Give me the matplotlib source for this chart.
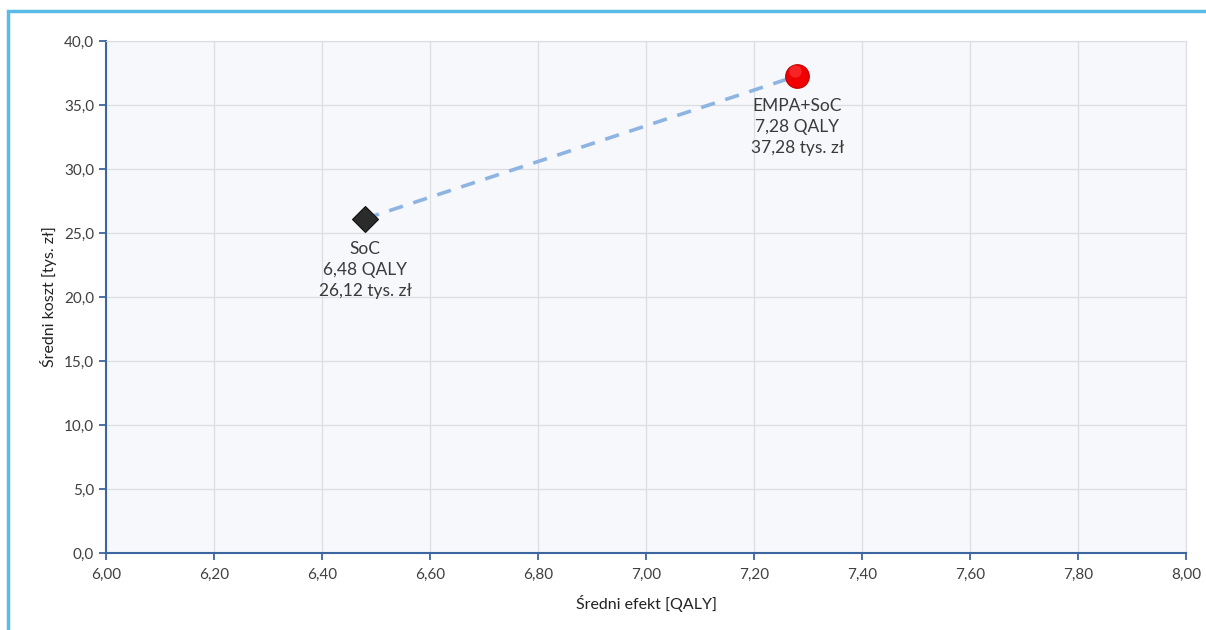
import matplotlib
matplotlib.use('Agg')
import numpy as np
from matplotlib import pyplot as plt
from matplotlib.patches import Rectangle

# data
names = ['SoC', 'EMPA+SoC']
qaly = [6.48, 7.28]
cost = [26.12, 37.28]
xticks = np.arange(6.0, 8.01, 0.2)
yticks = np.arange(0.0, 40.1, 5.0)

plt.rcParams['font.family'] = ['Lato', 'DejaVu Sans']

fig = plt.figure(figsize=(12.06, 6.30), dpi=100)
ax = fig.add_axes([106/1206, 1-553/630, 1080/1206, 512/630])
ax.set_facecolor('#f7f8fb')

# outer light blue frame
fig.patches.append(Rectangle((8/1206, -0.1), 1.2, 1-11/630+0.1, transform=fig.transFigure,
                             fill=False, edgecolor='#5bbbe8', lw=2.5, zorder=0))

ax.plot(qaly, cost, ls=(0, (4, 3)), color='#8db4e2', lw=2.6, zorder=2)
ax.plot(qaly[0], cost[0], marker='D', ms=13, color='#2b2b2b', mec='#111111', mew=0.8, ls='none', zorder=3)
ax.plot(qaly[1], cost[1], marker='o', ms=17, color='#f00000', mec='#c00000', mew=0.8, ls='none', zorder=3)
ax.plot(qaly[1]-0.004, cost[1]+0.35, marker='o', ms=9, color='#ff5050', mec='none', alpha=0.45, ls='none', zorder=4)

def fmt(v, d):
    return f'{v:.{d}f}'.replace('.', ',')

for n, q, c in zip(names, qaly, cost):
    ax.annotate(f'{n}\n{fmt(q, 2)} QALY\n{fmt(c, 2)} tys. zł', (q, c), xytext=(0, -16),
                textcoords='offset points', ha='center', va='top', fontsize=12.5,
                color='#3a3a3a', linespacing=1.4)

ax.set_xlim(6.0, 8.0)
ax.set_ylim(0, 40)
ax.set_xticks(xticks)
ax.set_yticks(yticks)
ax.set_xticklabels([fmt(t, 2) for t in xticks])
ax.set_yticklabels([fmt(t, 1) for t in yticks])
ax.grid(True, color='#dcdde0', lw=0.9)
ax.set_axisbelow(True)

for s in ['top', 'right']:
    ax.spines[s].set_color('#dcdde0')
for s in ['left', 'bottom']:
    ax.spines[s].set_color('#3b66a0')
    ax.spines[s].set_linewidth(1.5)
ax.tick_params(axis='both', colors='#3b66a0', length=5, width=1.3, labelcolor='#404040', labelsize=11)
ax.tick_params(axis='x', pad=6)

ax.set_xlabel('Średni efekt [QALY]', fontsize=11.5, color='#222222', labelpad=9)
ax.set_ylabel('Średni koszt [tys. zł]', fontsize=11.5, color='#222222', labelpad=5)

fig.savefig('out.png', dpi=100)
